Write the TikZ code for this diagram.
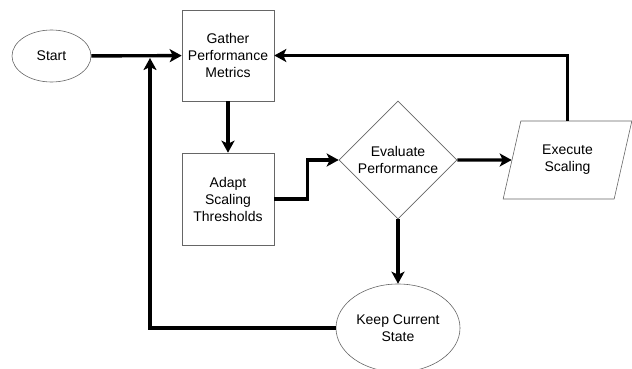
\documentclass[tikz,border=0pt]{standalone}
\usepackage{fontspec}
\setmainfont{Liberation Sans}
\usetikzlibrary{shapes.geometric,arrows.meta}
\tikzset{
  box/.style={draw=black!60,line width=.6pt,align=center,font=\fontsize{14}{17}\selectfont,inner sep=0pt},
  flow/.style={line width=3.4pt,-{Stealth[length=12pt,width=13pt,inset=3pt]}}
}
\begin{document}
\begin{tikzpicture}[x=1pt,y=-1pt]
    \useasboundingbox (0,0) rectangle (632,369);
    \node[box,ellipse,minimum width=79,minimum height=52] (start) at (51.5,56) {Start};
    \node[box,minimum width=92,minimum height=91] (gather) at (228,55.5) {Gather\\Performance\\Metrics};
    \node[box,minimum width=92,minimum height=92] (adapt) at (228,199) {Adapt\\Scaling\\Thresholds};
    \node[box,diamond,aspect=1,minimum size=118] (eval) at (398,160) {Evaluate\\Performance};
    \node[box,trapezium,trapezium left angle=72,trapezium right angle=108,trapezium stretches=true,
      minimum width=129,minimum height=78] (exec) at (567.5,160) {Execute\\Scaling};
    \node[box,ellipse,minimum width=124,minimum height=88] (keep) at (398,328) {Keep Current\\State};
    \coordinate (merge) at (150,58);
    \draw[flow] (start) -- (gather);
    \draw[flow] (gather) -- (adapt);
    \draw[flow] (adapt.east) -- ++(33,0) |- (eval.west);
    \draw[flow] (eval.east) -- (exec);
    \draw[flow] (exec.north) |- (gather.east);
    \draw[flow] (eval.south) -- (keep.north);
    \draw[flow] (keep.west) -| (merge);
  \end{tikzpicture}
\end{document}
